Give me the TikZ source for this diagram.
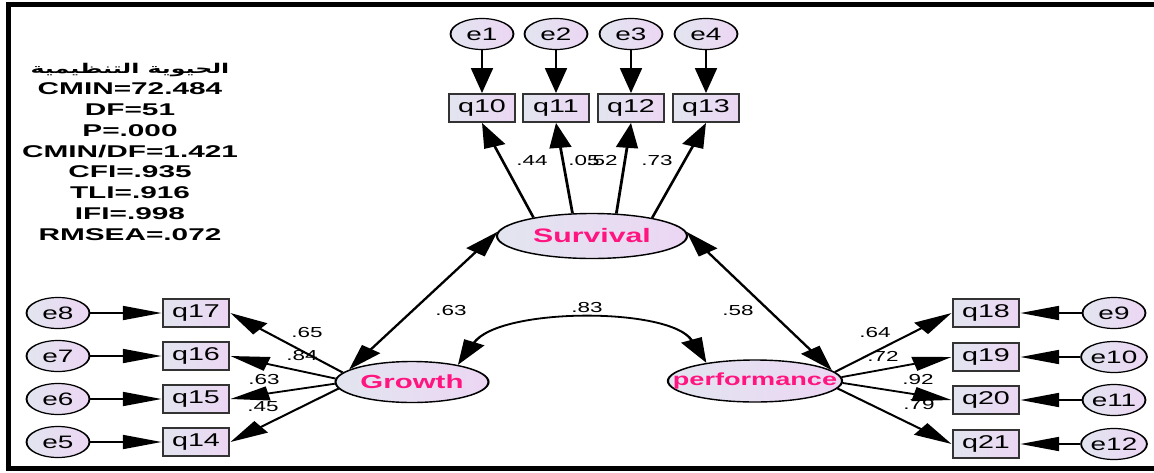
\documentclass[tikz,border=0pt]{standalone}
\usepackage{fontspec}
\setmainfont{Liberation Sans}
\newfontfamily\arabicfont[Script=Arabic]{DejaVu Sans}
\TeXXeTstate=1
\usetikzlibrary{shapes.geometric,arrows.meta}
\definecolor{fillL}{RGB}{226,229,240}
\definecolor{fillR}{RGB}{236,214,243}
\definecolor{latpink}{RGB}{255,20,128}
\newcommand{\ctr}[1]{\makebox[0pt]{#1}}

\begin{document}
\begin{tikzpicture}[x=1pt,y=-1pt,
    >={Triangle[length=25pt,width=14pt]},
    err/.style={ellipse,draw,line width=1.2pt,left color=fillL,right color=fillR,
      minimum width=40.6pt,minimum height=31pt,inner sep=0pt,font=\fontsize{18}{18}\selectfont},
    obs/.style={rectangle,draw=black!80,line width=1.8pt,left color=fillL,right color=fillR,
      minimum width=42.6pt,minimum height=28pt,inner sep=0pt,font=\fontsize{18.5}{18.5}\selectfont},
    lat/.style={ellipse,draw,line width=1.4pt,left color=fillL,right color=fillR,
      inner sep=0pt,text=latpink,font=\bfseries\fontsize{19}{19}\selectfont},
    lbl/.style={inner sep=0pt,font=\fontsize{14.5}{14.5}\selectfont},
    stats/.style={align=center,inner sep=0pt,xscale=1.13,font=\bfseries\fontsize{17}{20.8}\selectfont},
    load/.style={line width=1.8pt,->},
    cov/.style={line width=1.8pt,<->}]
  \useasboundingbox (0,0) rectangle (1154,472);
  % frame
  \draw[line width=5pt] (1154,4) -- (8,4) -- (8,468) -- (1154,468);

  \begin{scope}[transform canvas={xscale=1.55},x=0.64516pt]
    % fit indices
    \node[stats] (fit) at (130,152) {{\arabicfont\bfseries\fontsize{13.5}{20.8}\selectfont\beginR الحيوية التنظيمية\endR}\\
      CMIN=72.484\\ DF=51\\ P=.000\\ CMIN/DF=1.421\\ CFI=.935\\ TLI=.916\\ IFI=.998\\ RMSEA=.072};

    % latent variables
    \node[lat,minimum width=122.6pt,minimum height=45pt,font=\bfseries\fontsize{19.5}{19.5}\selectfont] (surv) at (592,236) {\ctr{Survival}};
    \node[lat,minimum width=98.7pt,minimum height=41pt] (growth) at (412,382) {\ctr{Growth}};
    \node[lat,minimum width=112.3pt,minimum height=42pt,font=\bfseries\fontsize{17.5}{17.5}\selectfont] (perf) at (755,381) {\ctr{performance}};

    % top indicators
    \node[err] (e1) at (482,34) {e1};
    \node[err] (e2) at (556,34) {e2};
    \node[err] (e3) at (631,34) {e3};
    \node[err] (e4) at (706,34) {e4};
    \node[obs] (q10) at (482,108) {q10};
    \node[obs] (q11) at (556,108) {q11};
    \node[obs] (q12) at (631,108) {q12};
    \node[obs] (q13) at (706,108) {q13};

    % left indicators
    \node[err] (e8) at (58,313) {e8};
    \node[err] (e7) at (58,356) {e7};
    \node[err] (e6) at (58,399) {e6};
    \node[err] (e5) at (58,442) {e5};
    \node[obs] (q17) at (196,313) {q17};
    \node[obs] (q16) at (196,356) {q16};
    \node[obs] (q15) at (196,399) {q15};
    \node[obs] (q14) at (196,442) {q14};

    % right indicators
    \node[obs] (q18) at (986,313) {q18};
    \node[obs] (q19) at (986,357) {q19};
    \node[obs] (q20) at (986,400) {q20};
    \node[obs] (q21) at (986,444) {q21};
    \node[err] (e9) at (1114,313) {e9};
    \node[err] (e10) at (1114,357) {e10};
    \node[err] (e11) at (1114,400) {e11};
    \node[err] (e12) at (1114,444) {e12};

    % coefficients
    \node[lbl] (l44) at (532,161) {.44};
    \node[lbl] (l05) at (584,161) {.05};
    \node[lbl] (l52) at (602,161) {.52};
    \node[lbl] (l73) at (657,161) {.73};
    \node[lbl] (l63a) at (451,311) {.63};
    \node[lbl] (l83) at (587,308) {.83};
    \node[lbl] (l58) at (738,311) {.58};
    \node[lbl] (l65) at (307,333) {.65};
    \node[lbl] (l84) at (302,356) {.84};
    \node[lbl] (l63b) at (264,380) {.63};
    \node[lbl] (l45) at (263,407) {.45};
    \node[lbl] (l64) at (875,333) {.64};
    \node[lbl] (l72) at (883,356) {.72};
    \node[lbl] (l92) at (918,380) {.92};
    \node[lbl] (l79) at (919,405) {.79};

    % paths
    \draw[load] (e1) -- (q10);
    \draw[load] (e2) -- (q11);
    \draw[load] (e3) -- (q12);
    \draw[load] (e4) -- (q13);
    \draw[load] (surv.154) -- (q10.south);
    \draw[load] (surv.119) -- (q11.south);
    \draw[load] (surv.55) -- (q12.south);
    \draw[load] (surv.25) -- (q13.south);
    \draw[cov] (surv.176) -- (growth.163);
    \draw[cov] (surv.4) -- (perf.12);
    \draw[cov] (growth.30) .. controls (500,307) and (670,307) .. (perf.150);
    \draw[load] (growth.168) -- (q17.east);
    \draw[load] (growth.176) -- (q16.east);
    \draw[load] (growth.182) -- (q15.east);
    \draw[load] (growth.188) -- (q14.east);
    \draw[load] (e8) -- (q17);
    \draw[load] (e7) -- (q16);
    \draw[load] (e6) -- (q15);
    \draw[load] (e5) -- (q14);
    \draw[load] (perf.10) -- (q18.west);
    \draw[load] (perf.4) -- (q19.west);
    \draw[load] (perf.358) -- (q20.west);
    \draw[load] (perf.352) -- (q21.west);
    \draw[load] (e9) -- (q18);
    \draw[load] (e10) -- (q19);
    \draw[load] (e11) -- (q20);
    \draw[load] (e12) -- (q21);
  \end{scope}
\end{tikzpicture}
\end{document}
